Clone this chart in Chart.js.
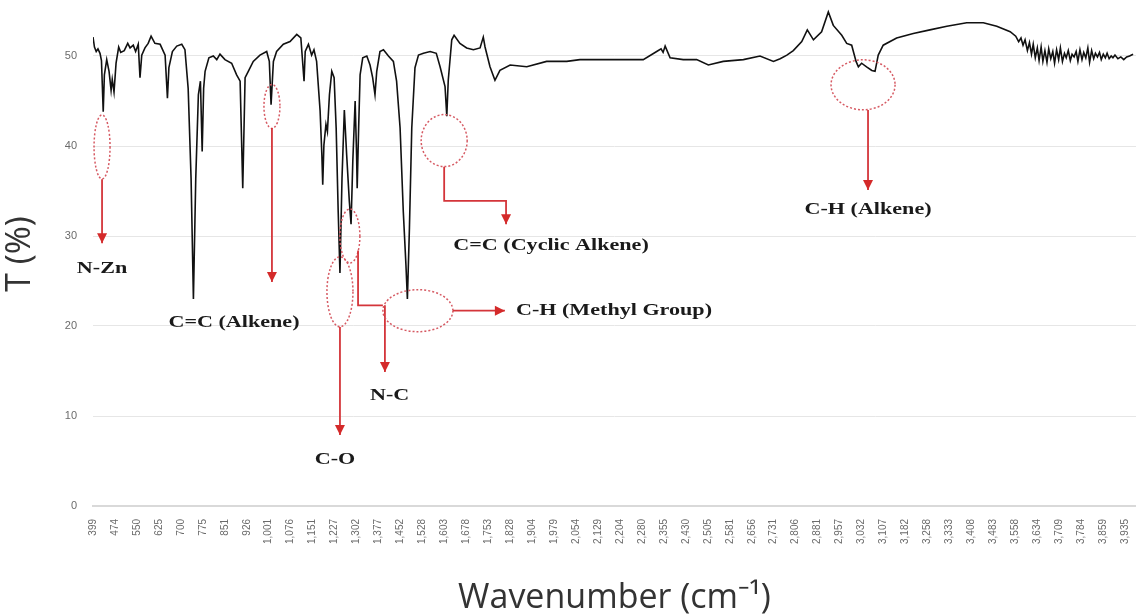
<!DOCTYPE html>
<html>
<head>
<meta charset="utf-8">
<script src="https://cdn.jsdelivr.net/npm/chart.js@4.4.1/dist/chart.umd.min.js"></script>
<style>
  html, body { margin: 0; padding: 0; background: #fff; }
  #wrap { width: 1136px; height: 616px; }
</style>
</head>
<body>
<div id="wrap"><canvas id="ftirChart" width="1136" height="616"></canvas></div>
<script>
// spectrum: wavenumber (cm-1) and transmittance (%)
const wavenumber = [
  399, 404, 410, 416, 423, 428, 434, 438, 446, 454, 461, 465, 471, 478, 487, 494,
  506, 518, 526, 537, 545, 554, 560, 566, 577, 588, 598, 611, 629, 646, 654, 659,
  671, 686, 703, 714, 725, 735, 743, 751, 760, 767, 773, 778, 783, 796, 811, 823,
  834, 851, 874, 891, 903, 912, 920, 931, 948, 971, 994, 1003, 1009, 1017, 1028, 1051,
  1074, 1097, 1111, 1117, 1122, 1126, 1137, 1148, 1156, 1165, 1177, 1183, 1186, 1190, 1197, 1202,
  1209, 1217, 1225, 1232, 1239, 1245, 1252, 1260, 1268, 1277, 1283, 1289, 1297, 1302, 1304, 1309,
  1314, 1323, 1337, 1348, 1357, 1365, 1371, 1382, 1394, 1411, 1428, 1439, 1451, 1462, 1471, 1476,
  1483, 1491, 1502, 1514, 1531, 1554, 1575, 1588, 1605, 1611, 1616, 1628, 1636, 1656, 1679, 1702,
  1725, 1736, 1742, 1759, 1776, 1793, 1828, 1885, 1953, 2022, 2067, 2181, 2284, 2330, 2345, 2352,
  2359, 2376, 2421, 2467, 2507, 2558, 2627, 2684, 2730, 2753, 2776, 2798, 2827, 2846, 2867, 2895,
  2918, 2935, 2964, 2981, 2998, 3013, 3021, 3032, 3049, 3067, 3078, 3089, 3106, 3152, 3209, 3266,
  3324, 3392, 3449, 3495, 3541, 3560, 3570, 3578, 3585, 3592, 3600, 3607, 3614, 3620, 3627, 3634,
  3640, 3647, 3653, 3660, 3667, 3673, 3680, 3687, 3693, 3700, 3707, 3713, 3720, 3727, 3733, 3740,
  3747, 3753, 3760, 3767, 3773, 3780, 3787, 3793, 3800, 3807, 3813, 3820, 3827, 3833, 3840, 3847,
  3853, 3860, 3867, 3873, 3880, 3887, 3893, 3900, 3910, 3920, 3930, 3940, 3950, 3962
];
const transmittance = [
  52.1, 51.0, 50.5, 50.8, 50.3, 49.5, 43.8, 47.9, 49.6, 48.3, 46.2, 47.4, 46.0, 49.2, 51.0, 50.4,
  50.6, 51.4, 50.9, 51.2, 50.5, 51.3, 47.6, 50.1, 50.9, 51.4, 52.2, 51.4, 51.3, 50.1, 45.3, 48.7,
  50.5, 51.1, 51.3, 50.7, 46.4, 36.4, 23.0, 36.4, 45.7, 47.2, 39.4, 46.4, 48.3, 49.8, 50.0, 49.6,
  50.2, 49.6, 49.2, 47.9, 47.2, 35.3, 47.6, 48.3, 49.4, 50.1, 50.5, 49.4, 44.6, 49.4, 50.5, 51.3,
  51.6, 52.4, 52.0, 49.4, 47.2, 50.5, 51.3, 50.1, 50.7, 49.4, 43.9, 39.0, 35.7, 40.1, 42.4, 41.6,
  45.7, 48.3, 47.6, 42.0, 32.7, 25.9, 36.4, 44.0, 39.0, 33.9, 31.3, 38.3, 45.0, 39.0, 35.3, 42.0,
  47.9, 49.8, 50.0, 49.0, 47.6, 45.7, 48.3, 50.5, 50.7, 50.0, 49.4, 47.2, 42.0, 32.7, 26.8, 23.0,
  30.9, 42.0, 48.7, 50.1, 50.3, 50.5, 50.3, 48.8, 46.6, 43.3, 47.3, 51.8, 52.3, 51.4, 50.9, 50.7,
  50.9, 52.1, 51.0, 48.8, 47.3, 48.4, 49.0, 48.8, 49.4, 49.4, 49.6, 49.6, 49.6, 50.5, 50.8, 50.4,
  51.1, 49.8, 49.6, 49.6, 49.0, 49.4, 49.6, 50.0, 49.4, 49.7, 50.1, 50.6, 51.6, 52.9, 51.8, 52.7,
  54.9, 53.4, 52.3, 51.4, 51.2, 49.4, 48.8, 49.2, 48.8, 48.4, 48.3, 50.1, 51.2, 52.0, 52.5, 52.9,
  53.3, 53.7, 53.7, 53.3, 52.7, 52.2, 51.6, 52.0, 51.2, 51.8, 50.6, 51.5, 50.2, 51.3, 49.8, 50.9,
  49.5, 51.0, 49.4, 50.6, 49.3, 50.8, 49.7, 50.5, 49.2, 50.7, 49.6, 50.9, 49.4, 50.3, 49.8, 50.6,
  49.5, 50.2, 49.9, 50.5, 49.4, 50.7, 49.6, 50.4, 49.8, 50.9, 49.3, 50.6, 49.7, 50.3, 49.9, 50.4,
  49.6, 50.2, 49.8, 50.3, 49.7, 50.0, 49.8, 50.1, 49.7, 49.9, 49.6, 49.9, 50.0, 50.2
];

const xTickLabels = [
  "399", "474", "550", "625", "700", "775", "851", "926", "1,001", "1,076", "1,151", "1,227",
  "1,302", "1,377", "1,452", "1,528", "1,603", "1,678", "1,753", "1,828", "1,904", "1,979",
  "2,054", "2,129", "2,204", "2,280", "2,355", "2,430", "2,505", "2,581", "2,656", "2,731",
  "2,806", "2,881", "2,957", "3,032", "3,107", "3,182", "3,258", "3,333", "3,408", "3,483",
  "3,558", "3,634", "3,709", "3,784", "3,859", "3,935"
];
const yTicks = [0, 10, 20, 30, 40, 50];

// band assignments: ellipse centre and arrows in data units (wavenumber, T)
const callouts = [
  { text: "N-Zn", ring: [430, 39.9, 8, 32], lines: [[[430, 36.3], [430, 29.2]]], at: [430, 26.4], align: "center" },
  { text: "C=C (Alkene)", ring: [1012, 44.4, 8, 22], lines: [[[1012, 42.0], [1012, 24.9]]], at: [882, 20.4], align: "center" },
  { text: "C-O", ring: [1245, 23.8, 13, 35], lines: [[[1245, 19.9], [1245, 7.9]]], at: [1228, 5.1], align: "center" },
  { text: "N-C", ring: [1279, 30.0, 10, 27], lines: [[[1307, 28.4], [1307, 22.3], [1392, 22.3]], [[1399, 22.3], [1399, 14.9]]], at: [1415, 12.3], align: "center" },
  { text: "C-H (Methyl Group)", ring: [1512, 21.7, 35, 21], lines: [[[1632, 21.7], [1810, 21.7]]], at: [1848, 21.7], align: "left" },
  { text: "C=C (Cyclic Alkene)", ring: [1602, 40.6, 23, 26], lines: [[[1602, 37.7], [1602, 33.9], [1814, 33.9], [1814, 31.3]]], at: [1968, 28.9], align: "center" },
  { text: "C-H (Alkene)", ring: [3037, 46.8, 32, 25], lines: [[[3054, 44.0], [3054, 35.1]]], at: [3054, 32.9], align: "center" }
];

document.addEventListener("DOMContentLoaded", () => {
  initChart();
});

const calloutPlugin = {
  id: "callouts",
  afterDatasetsDraw(chart) {
    const { ctx, scales } = chart;
    const px = (p) => [scales.x.getPixelForValue(p[0]), scales.y.getPixelForValue(p[1])];
    ctx.save();
    callouts.forEach((c) => {
      // dotted ring
      const [cx, cy] = px(c.ring);
      ctx.beginPath();
      ctx.ellipse(cx, cy, c.ring[2], c.ring[3], 0, 0, Math.PI * 2);
      ctx.setLineDash([2, 2]);
      ctx.lineWidth = 1.5;
      ctx.strokeStyle = "#d65a63";
      ctx.stroke();
      ctx.setLineDash([]);

      // leader lines, arrow head on the last one
      c.lines.forEach((line, i) => {
        const pts = line.map(px);
        ctx.beginPath();
        ctx.moveTo(pts[0][0], pts[0][1]);
        pts.slice(1).forEach((p) => ctx.lineTo(p[0], p[1]));
        ctx.strokeStyle = "#d4353a";
        ctx.lineWidth = 1.8;
        ctx.stroke();
        if (i === c.lines.length - 1) {
          const a = pts[pts.length - 2];
          const b = pts[pts.length - 1];
          const ang = Math.atan2(b[1] - a[1], b[0] - a[0]);
          ctx.beginPath();
          ctx.moveTo(b[0], b[1]);
          ctx.lineTo(b[0] - 10 * Math.cos(ang) + 5 * Math.sin(ang), b[1] - 10 * Math.sin(ang) - 5 * Math.cos(ang));
          ctx.lineTo(b[0] - 10 * Math.cos(ang) - 5 * Math.sin(ang), b[1] - 10 * Math.sin(ang) + 5 * Math.cos(ang));
          ctx.closePath();
          ctx.fillStyle = "#d42a2a";
          ctx.fill();
        }
      });

      // label, stretched sideways like the original
      const [tx, ty] = px(c.at);
      ctx.save();
      ctx.translate(tx, ty);
      ctx.scale(1.3, 1);
      ctx.font = 'bold 17px "Liberation Serif", serif';
      ctx.fillStyle = "#1a1a1a";
      ctx.textAlign = c.align;
      ctx.textBaseline = "middle";
      ctx.fillText(c.text, 0, 0);
      ctx.restore();
    });
    ctx.restore();
  },
};

function initChart() {
  const ctx = document.getElementById("ftirChart").getContext("2d");
  const points = wavenumber.map((w, i) => ({ x: w, y: transmittance[i] }));
  const xTickValues = xTickLabels.map((s) => Number(s.replace(",", "")));

  new Chart(ctx, {
    type: "line",
    data: {
      datasets: [
        {
          label: "T",
          data: points,
          borderColor: "#111111",
          borderWidth: 1.6,
          pointRadius: 0,
          tension: 0,
          fill: false,
        },
      ],
    },
    options: {
      responsive: false,
      animation: false,
      devicePixelRatio: 1,
      layout: { padding: { top: 2, right: 0, bottom: 0, left: 0 } },
      plugins: {
        legend: { display: false },
        tooltip: { enabled: false },
      },
      scales: {
        x: {
          type: "linear",
          min: 399,
          max: 3972,
          afterBuildTicks: (scale) => {
            scale.ticks = xTickValues.map((v) => ({ value: v }));
          },
          afterFit: (scale) => {
            scale.height = 110;
            scale.paddingLeft = 0;
            scale.paddingRight = 0;
          },
          grid: { display: false },
          border: { display: true, color: "#d9d9d9", width: 2 },
          ticks: {
            autoSkip: false,
            minRotation: 90,
            maxRotation: 90,
            padding: 5,
            color: "#6b6b6b",
            font: { family: "Liberation Sans", size: 10 },
            callback: (v) => xTickLabels[xTickValues.indexOf(v)],
          },
          title: {
            display: true,
            text: "Wavenumber (cm\u207B\u00B9)",
            color: "#333333",
            font: { family: "Open Sans", size: 34 },
            padding: { top: 0, bottom: -3 },
          },
        },
        y: {
          min: 0,
          max: 56,
          afterBuildTicks: (scale) => {
            scale.ticks = yTicks.map((v) => ({ value: v }));
          },
          afterFit: (scale) => {
            scale.width = 93;
            scale.paddingTop = 0;
            scale.paddingBottom = 0;
          },
          grid: {
            color: "#e6e6e6",
            drawTicks: false,
          },
          border: { display: false },
          ticks: {
            padding: 16,
            color: "#6b6b6b",
            font: { family: "Liberation Sans", size: 11 },
          },
          title: {
            display: true,
            text: "T (%)",
            color: "#333333",
            font: { family: "Open Sans", size: 34 },
            padding: { top: 0, bottom: 0 },
          },
        },
      },
    },
    plugins: [calloutPlugin],
  });
}
</script>
</body>
</html>
